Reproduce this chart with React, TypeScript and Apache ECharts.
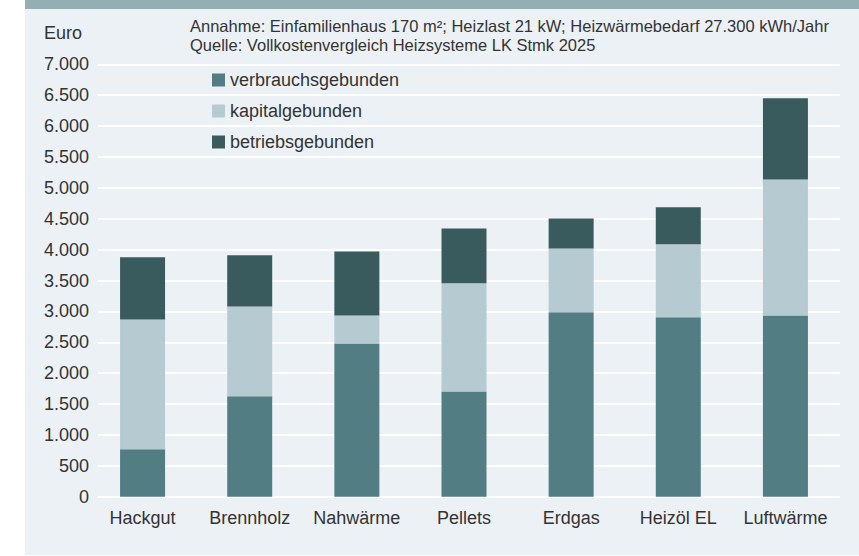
import React, { useEffect, useRef } from "react";
import * as echarts from "echarts";

const categories = ["Hackgut", "Brennholz", "Nahwärme", "Pellets", "Erdgas", "Heizöl EL", "Luftwärme"];
const verbrauchsgebunden = [770, 1625, 2480, 1705, 2985, 2905, 2935];
const kapitalgebunden = [2100, 1455, 455, 1750, 1035, 1180, 2200];
const betriebsgebunden = [1005, 830, 1035, 885, 485, 600, 1315];
const seriesNames = ["verbrauchsgebunden", "kapitalgebunden", "betriebsgebunden"];
const noteLines = [
  "Annahme: Einfamilienhaus 170 m²; Heizlast 21 kW; Heizwärmebedarf 27.300 kWh/Jahr",
  "Quelle: Vollkostenvergleich Heizsysteme LK Stmk 2025",
];
const yUnit = "Euro";

const COLORS = ["#527d83", "#b6cad1", "#3a5b5d"];
const TEXT = "#333333";
const FONT = "'Liberation Sans', Arial, sans-serif";

function fmt(v: number): string {
  const s = String(Math.round(v));
  return s.replace(/\B(?=(\d{3})+(?!\d))/g, ".");
}

export default function App() {
  const ref = useRef<HTMLDivElement>(null);
  useEffect(() => {
    document.body.style.margin = "0";
    if (!ref.current) return;
    const chart = echarts.init(ref.current, null, { renderer: "svg" });
    const values = [verbrauchsgebunden, kapitalgebunden, betriebsgebunden];
    chart.setOption({
      animation: false,
      backgroundColor: "transparent",
      textStyle: { fontFamily: FONT },
      grid: [
        { left: 98, right: 19, top: 64.3, bottom: 59.3, containLabel: false },
        { left: 89, right: 20, top: 64.3, bottom: 59.3, containLabel: false },
      ],
      legend: {
        orient: "vertical",
        left: 207,
        top: 66,
        itemWidth: 13,
        itemHeight: 13,
        itemGap: 13,
        icon: "rect",
        data: seriesNames,
        textStyle: { fontSize: 18, color: TEXT, fontFamily: FONT, lineHeight: 18, padding: [0, 0, 0, 0] },
      },
      graphic: [
        {
          type: "text",
          left: 44,
          top: 24,
          style: { text: yUnit, fontSize: 18, fill: TEXT, fontFamily: FONT },
        },
        {
          type: "text",
          left: 190,
          top: 16,
          style: {
            text: noteLines.join("\n"),
            fontSize: 16.5,
            lineHeight: 19,
            fill: TEXT,
            fontFamily: FONT,
          },
        },
      ],
      xAxis: [
        { type: "category", gridIndex: 0, data: categories, show: false },
        {
          type: "category",
          gridIndex: 1,
          data: categories,
          axisLine: { show: false },
          axisTick: { show: false },
          axisLabel: { fontSize: 18, color: TEXT, margin: 12, fontFamily: FONT, interval: 0, hideOverlap: false },
        },
      ],
      yAxis: [
        {
          type: "value",
          gridIndex: 0,
          min: 0,
          max: 7000,
          interval: 500,
          axisLine: { show: false },
          axisTick: { show: false },
          axisLabel: { fontSize: 18, color: TEXT, margin: 9, fontFamily: FONT, formatter: (v: number) => fmt(v) },
          splitLine: { lineStyle: { color: "#ffffff", width: 2 } },
        },
        { type: "value", gridIndex: 1, min: 0, max: 7000, interval: 500, show: false, splitLine: { show: false } },
      ],
      series: seriesNames.map((name, i) => ({
        name,
        type: "bar",
        stack: "total",
        xAxisIndex: 1,
        yAxisIndex: 1,
        barWidth: 45,
        data: values[i],
        itemStyle: { color: COLORS[i] },
      })),
    });
    return () => chart.dispose();
  }, []);
  return (
    <div style={{ position: "relative", width: 859, height: 556, background: "#ffffff" }}>
      <div style={{ position: "absolute", left: 25, top: 0, width: 834, height: 9, background: "#94aeb4" }} />
      <div style={{ position: "absolute", left: 25, top: 9, width: 834, height: 546, background: "#ecf1f5" }} />
      <div ref={ref} style={{ position: "absolute", left: 0, top: 0, width: 859, height: 556 }} />
    </div>
  );
}
